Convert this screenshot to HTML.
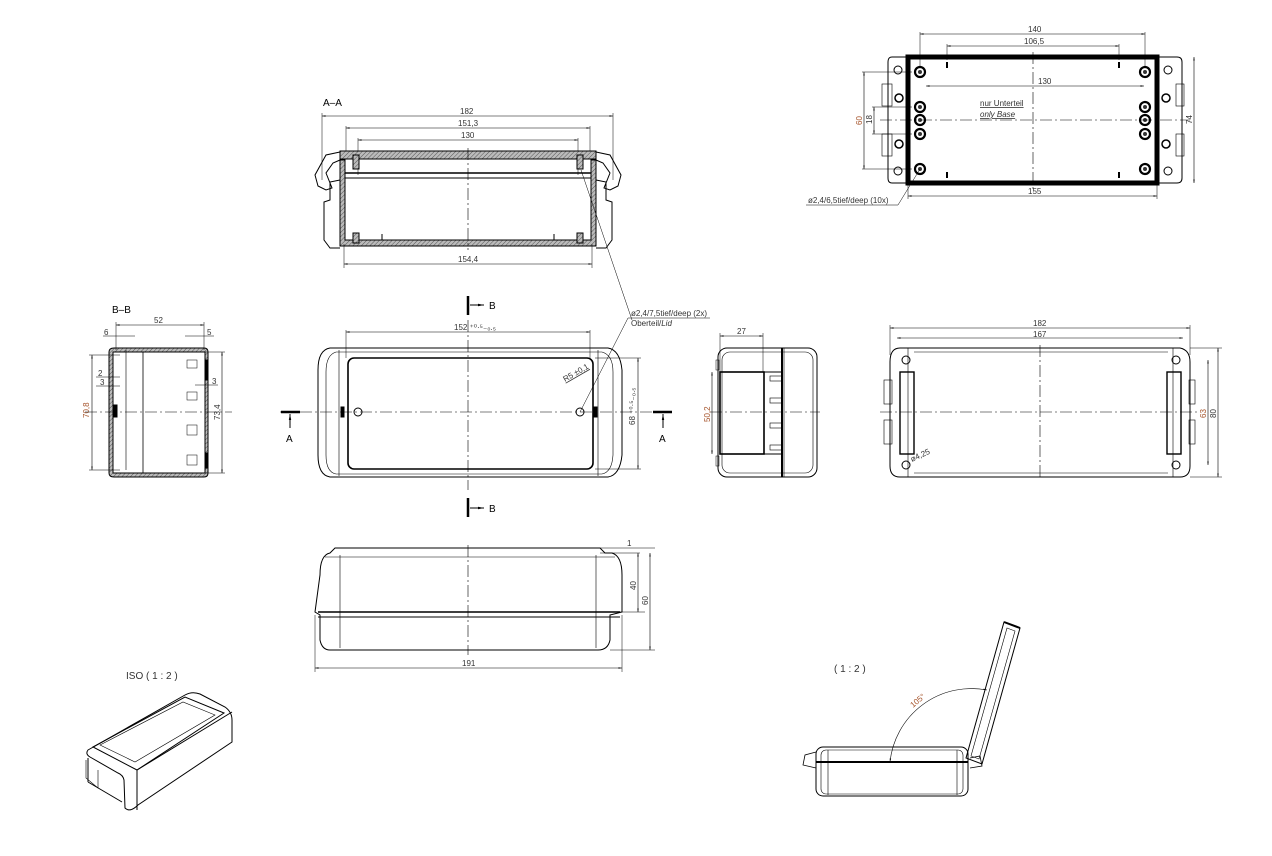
<!DOCTYPE html>
<html><head><meta charset="utf-8"><style>
html,body{margin:0;padding:0;background:#fff;}
svg{display:block;}
text{font-family:"Liberation Sans",sans-serif;}
.d{font-size:8px;fill:#333;}
.o{font-size:8px;fill:#a5532a;}
</style></head><body>
<svg width="1272" height="856" viewBox="0 0 1272 856" xmlns="http://www.w3.org/2000/svg">
<defs>
<marker id="a" viewBox="0 0 10 10" refX="10" refY="5" markerWidth="6" markerHeight="6" orient="auto-start-reverse"><path d="M0,3 L10,5 L0,7z" fill="#000"/></marker>
<pattern id="h" width="3" height="3" patternUnits="userSpaceOnUse" patternTransform="rotate(45)"><rect width="3" height="3" fill="#bbb"/><line x1="0" y1="0" x2="0" y2="3" stroke="#555" stroke-width="1"/></pattern>
</defs>
<g fill="none" stroke="#000" stroke-width="1">

<!-- ========== A-A section ========== -->
<text x="323" y="106" stroke="none" fill="#000" style="font-size:10px">A–A</text>
<line x1="322" y1="116" x2="613" y2="116" marker-start="url(#a)" marker-end="url(#a)" stroke-width="0.6"/>
<line x1="322" y1="113" x2="322" y2="180" stroke-width="0.5"/><line x1="613" y1="113" x2="613" y2="180" stroke-width="0.5"/>
<line x1="346" y1="128" x2="590" y2="128" marker-start="url(#a)" marker-end="url(#a)" stroke-width="0.6"/>
<line x1="346" y1="126" x2="346" y2="155" stroke-width="0.5"/><line x1="590" y1="126" x2="590" y2="155" stroke-width="0.5"/>
<line x1="358" y1="140" x2="578" y2="140" marker-start="url(#a)" marker-end="url(#a)" stroke-width="0.6"/>
<line x1="358" y1="138" x2="358" y2="175" stroke-width="0.5"/><line x1="578" y1="138" x2="578" y2="175" stroke-width="0.5"/>
<text x="460" y="114" class="d" stroke="none">182</text>
<text x="458" y="126" class="d" stroke="none">151,3</text>
<text x="461" y="138" class="d" stroke="none">130</text>
<rect x="340" y="151" width="256" height="8" fill="url(#h)" stroke="#000"/>
<line x1="345" y1="173" x2="592" y2="173" stroke-width="1.5"/>
<line x1="340" y1="178" x2="596" y2="178"/>
<path d="M340,152 L326,155 L315,175 L318,186 L326,190 L332,188 L326,173 L333,163 L340,160"/>
<path d="M596,152 L610,155 L621,175 L618,186 L610,190 L604,188 L610,173 L603,163 L596,160"/>
<path d="M340,160 L340,246 L596,246 L596,160 L591,160 L591,240 L345,240 L345,160 Z" fill="url(#h)"/>
<path d="M340,180 L330,182 L330,200 L324,202 L324,240 L330,248 L340,248"/>
<path d="M596,180 L606,182 L606,200 L612,202 L612,240 L606,248 L596,248"/>
<rect x="353" y="155" width="6" height="14" fill="url(#h)"/><rect x="577" y="155" width="6" height="14" fill="url(#h)"/>
<rect x="353" y="233" width="6" height="10" fill="url(#h)"/><rect x="577" y="233" width="6" height="10" fill="url(#h)"/>
<line x1="382" y1="234" x2="382" y2="240"/><line x1="554" y1="234" x2="554" y2="240"/>
<line x1="468" y1="148" x2="468" y2="250" stroke-dasharray="12,3,2,3" stroke-width="0.6"/>
<line x1="344" y1="244" x2="344" y2="268" stroke-width="0.5"/><line x1="592" y1="244" x2="592" y2="268" stroke-width="0.5"/>
<line x1="344" y1="264" x2="592" y2="264" marker-start="url(#a)" marker-end="url(#a)" stroke-width="0.6"/>
<text x="458" y="262" class="d" stroke="none">154,4</text>
<line x1="581" y1="170" x2="632" y2="320" stroke-width="0.5"/>

<!-- ========== B-B section ========== -->
<text x="112" y="313" stroke="none" fill="#000" style="font-size:10px">B–B</text>
<path d="M114,348 L204,348 Q208,348 208,352 L208,473 Q208,477 204,477 L114,477 Q109,477 109,473 L109,352 Q109,348 114,348 Z M113,352 L113,473 L205,473 L205,352 Z" fill="url(#h)" fill-rule="evenodd"/>
<line x1="116" y1="325" x2="204" y2="325" marker-start="url(#a)" marker-end="url(#a)" stroke-width="0.6"/>
<text x="154" y="323" class="d" stroke="none">52</text>
<text x="104" y="335" class="d" stroke="none">6</text><text x="207" y="335" class="d" stroke="none">5</text>
<line x1="103" y1="336" x2="135" y2="336" stroke-width="0.5"/><line x1="185" y1="336" x2="214" y2="336" stroke-width="0.5"/>
<line x1="116" y1="322" x2="116" y2="350" stroke-width="0.5"/><line x1="204" y1="322" x2="204" y2="350" stroke-width="0.5"/>
<line x1="126" y1="350" x2="126" y2="470" stroke-width="0.6"/>
<line x1="143" y1="352" x2="143" y2="473" stroke-width="0.8"/>
<line x1="92" y1="355" x2="92" y2="470" marker-start="url(#a)" marker-end="url(#a)" stroke-width="0.6"/>
<line x1="89" y1="355" x2="120" y2="355" stroke-width="0.5"/><line x1="89" y1="470" x2="120" y2="470" stroke-width="0.5"/>
<text transform="translate(89,418) rotate(-90)" class="o" stroke="none">70,8</text>
<line x1="222" y1="352" x2="222" y2="473" marker-start="url(#a)" marker-end="url(#a)" stroke-width="0.6"/>
<line x1="205" y1="352" x2="225" y2="352" stroke-width="0.5"/><line x1="205" y1="473" x2="225" y2="473" stroke-width="0.5"/>
<text transform="translate(220,420) rotate(-90)" class="d" stroke="none">73,4</text>
<text x="98" y="376" class="d" stroke="none">2</text><text x="100" y="385" class="d" stroke="none">3</text>
<line x1="96" y1="377" x2="120" y2="377" stroke-width="0.5"/><line x1="96" y1="386" x2="120" y2="386" stroke-width="0.5"/>
<text x="212" y="384" class="d" stroke="none">3</text>
<line x1="195" y1="385" x2="218" y2="385" stroke-width="0.5"/>
<rect x="113" y="405" width="4" height="12" fill="#000"/><rect x="205" y="360" width="3" height="20" fill="#000"/><rect x="205" y="453" width="3" height="15" fill="#000"/>
<line x1="85" y1="412" x2="232" y2="412" stroke-dasharray="12,3,2,3" stroke-width="0.6"/>
<rect x="187" y="360" width="10" height="8" stroke-width="0.5"/><rect x="187" y="392" width="10" height="8" stroke-width="0.5"/><rect x="187" y="425" width="10" height="10" stroke-width="0.5"/><rect x="187" y="455" width="10" height="10" stroke-width="0.5"/>

<!-- ========== front view ========== -->
<path d="M330,348 L608,348 Q620,350 622,370 L622,455 Q620,475 608,477 L330,477 Q318,475 318,455 L318,370 Q318,350 330,348 Z"/>
<path d="M336,352 L602,352 Q613,355 613,372 L613,455 Q612,472 602,474 L336,474 Q326,472 326,455 L326,372 Q326,355 336,352 Z" stroke-width="0.6"/>
<line x1="339" y1="350" x2="339" y2="476" stroke-width="0.6"/><line x1="598" y1="350" x2="598" y2="476" stroke-width="0.6"/>
<rect x="348" y="358" width="245" height="111" rx="6" stroke-width="1.6"/>
<line x1="280" y1="412" x2="655" y2="412" stroke-dasharray="12,3,2,3" stroke-width="0.6"/>
<line x1="468" y1="320" x2="468" y2="490" stroke-dasharray="12,3,2,3" stroke-width="0.6"/>
<circle cx="358" cy="412" r="4"/><circle cx="580" cy="412" r="4"/>
<rect x="341" y="407" width="3" height="10" fill="#000"/><rect x="594" y="407" width="3" height="10" fill="#000"/>
<line x1="346" y1="332" x2="590" y2="332" marker-start="url(#a)" marker-end="url(#a)" stroke-width="0.6"/>
<line x1="346" y1="330" x2="346" y2="358" stroke-width="0.5"/><line x1="590" y1="330" x2="590" y2="358" stroke-width="0.5"/>
<text x="454" y="330" class="d" stroke="none">152 ⁺⁰·⁵₋₀.₅</text>
<line x1="638" y1="358" x2="638" y2="469" marker-start="url(#a)" marker-end="url(#a)" stroke-width="0.6"/>
<line x1="595" y1="358" x2="641" y2="358" stroke-width="0.5"/><line x1="595" y1="469" x2="641" y2="469" stroke-width="0.5"/>
<text transform="translate(635,425) rotate(-90)" class="d" stroke="none">68 ⁺⁰·⁵₋₀.₅</text>
<text transform="translate(565,382) rotate(-30)" class="d" stroke="none" style="text-decoration:underline">R5 ±0,1</text>
<line x1="580" y1="412" x2="628" y2="318" stroke-width="0.5"/><line x1="628" y1="318" x2="710" y2="318" stroke-width="0.5"/>
<text x="631" y="316" class="d" stroke="none">ø2,4/7,5tief/deep (2x)</text>
<text x="631" y="326" class="d" stroke="none">Oberteil/<tspan font-style="italic">Lid</tspan></text>
<line x1="468" y1="296" x2="468" y2="315" stroke-width="2.5"/><line x1="470" y1="305" x2="484" y2="305" marker-end="url(#a)"/>
<text x="489" y="309" stroke="none" fill="#000" style="font-size:10px">B</text>
<line x1="468" y1="498" x2="468" y2="517" stroke-width="2.5"/><line x1="470" y1="508" x2="484" y2="508" marker-end="url(#a)"/>
<text x="489" y="512" stroke="none" fill="#000" style="font-size:10px">B</text>
<line x1="281" y1="412" x2="300" y2="412" stroke-width="2.5"/><line x1="290" y1="414" x2="290" y2="428" marker-start="url(#a)"/>
<text x="286" y="442" stroke="none" fill="#000" style="font-size:10px">A</text>
<line x1="653" y1="412" x2="672" y2="412" stroke-width="2.5"/><line x1="663" y1="414" x2="663" y2="428" marker-start="url(#a)"/>
<text x="659" y="442" stroke="none" fill="#000" style="font-size:10px">A</text>

<!-- ========== side view ========== -->
<rect x="718" y="348" width="99" height="129" rx="9"/>
<rect x="722" y="352" width="91" height="121" rx="8" stroke-width="0.6"/>
<line x1="782" y1="348" x2="782" y2="477" stroke-width="2"/>
<line x1="784" y1="348" x2="784" y2="477" stroke-width="0.6"/>
<rect x="720" y="372" width="44" height="82" stroke-width="1.6"/>
<line x1="764" y1="372" x2="782" y2="372"/><line x1="764" y1="454" x2="782" y2="454"/>
<rect x="770" y="376" width="12" height="5" stroke-width="0.6"/><rect x="770" y="398" width="12" height="5" stroke-width="0.6"/><rect x="770" y="423" width="12" height="5" stroke-width="0.6"/><rect x="770" y="445" width="12" height="5" stroke-width="0.6"/>
<line x1="710" y1="412" x2="820" y2="412" stroke-dasharray="12,3,2,3" stroke-width="0.6"/>
<line x1="720" y1="336" x2="763" y2="336" marker-start="url(#a)" marker-end="url(#a)" stroke-width="0.6"/>
<line x1="720" y1="333" x2="720" y2="372" stroke-width="0.5"/><line x1="763" y1="333" x2="763" y2="372" stroke-width="0.5"/>
<text x="737" y="334" class="d" stroke="none">27</text>
<line x1="712" y1="372" x2="712" y2="454" marker-start="url(#a)" marker-end="url(#a)" stroke-width="0.6"/>
<text transform="translate(710,422) rotate(-90)" class="o" stroke="none">50,2</text>
<rect x="716" y="360" width="3" height="10" stroke-width="0.5"/><rect x="716" y="456" width="3" height="10" stroke-width="0.5"/>

<!-- ========== right view ========== -->
<path d="M900,348 L1180,348 Q1190,350 1190,362 L1190,466 Q1190,477 1180,477 L900,477 Q890,477 890,466 L890,362 Q890,348 900,348 Z"/>
<line x1="908" y1="348" x2="908" y2="477" stroke-width="0.6"/><line x1="1173" y1="348" x2="1173" y2="477" stroke-width="0.6"/>
<line x1="914" y1="352" x2="1168" y2="352" stroke-width="0.6"/><line x1="914" y1="473" x2="1168" y2="473" stroke-width="0.6"/>
<circle cx="906" cy="360" r="4"/><circle cx="1176" cy="360" r="4"/><circle cx="906" cy="465" r="4"/><circle cx="1176" cy="465" r="4"/>
<rect x="900" y="372" width="14" height="82" stroke-width="1.4"/><rect x="1167" y="372" width="14" height="82" stroke-width="1.4"/>
<rect x="884" y="380" width="8" height="24" stroke-width="0.6"/><rect x="884" y="420" width="8" height="24" stroke-width="0.6"/>
<rect x="1189" y="380" width="6" height="24" stroke-width="0.6"/><rect x="1189" y="420" width="6" height="24" stroke-width="0.6"/>
<line x1="880" y1="412" x2="1200" y2="412" stroke-dasharray="12,3,2,3" stroke-width="0.6"/>
<line x1="1040" y1="345" x2="1040" y2="480" stroke-dasharray="12,3,2,3" stroke-width="0.6"/>
<line x1="890" y1="328" x2="1190" y2="328" marker-start="url(#a)" marker-end="url(#a)" stroke-width="0.6"/>
<line x1="897" y1="338" x2="1183" y2="338" marker-start="url(#a)" marker-end="url(#a)" stroke-width="0.6"/>
<line x1="890" y1="325" x2="890" y2="355" stroke-width="0.5"/><line x1="1190" y1="325" x2="1190" y2="355" stroke-width="0.5"/>
<text x="1033" y="326" class="d" stroke="none">182</text><text x="1033" y="337" class="d" stroke="none">167</text>
<line x1="1208" y1="360" x2="1208" y2="465" marker-start="url(#a)" marker-end="url(#a)" stroke-width="0.6"/>
<line x1="1218" y1="348" x2="1218" y2="477" marker-start="url(#a)" marker-end="url(#a)" stroke-width="0.6"/>
<line x1="1190" y1="348" x2="1222" y2="348" stroke-width="0.5"/><line x1="1190" y1="477" x2="1222" y2="477" stroke-width="0.5"/>
<text transform="translate(1206,418) rotate(-90)" class="o" stroke="none">63</text>
<text transform="translate(1216,418) rotate(-90)" class="d" stroke="none">80</text>
<text transform="translate(912,462) rotate(-25)" class="d" stroke="none">ø4,25</text>

<!-- ========== top right view ========== -->
<rect x="908" y="57" width="249" height="126" stroke-width="5"/>
<path d="M892,57 L908,57 L908,183 L892,183 Q888,183 888,178 L888,62 Q888,57 892,57 Z"/>
<path d="M1157,57 L1177,57 Q1182,57 1182,62 L1182,178 Q1182,183 1177,183 L1157,183 Z"/>
<circle cx="898" cy="70" r="4"/><circle cx="898" cy="171" r="4"/><circle cx="1168" cy="70" r="4"/><circle cx="1168" cy="171" r="4"/>
<rect x="882" y="84" width="10" height="22" stroke-width="0.6"/><rect x="882" y="134" width="10" height="22" stroke-width="0.6"/>
<rect x="1176" y="84" width="8" height="22" stroke-width="0.6"/><rect x="1176" y="134" width="8" height="22" stroke-width="0.6"/>
<g stroke-width="2.2">
<circle cx="920" cy="72" r="5"/><circle cx="1145" cy="72" r="5"/><circle cx="920" cy="107" r="5"/><circle cx="920" cy="120" r="5"/><circle cx="920" cy="134" r="5"/><circle cx="1145" cy="107" r="5"/><circle cx="1145" cy="120" r="5"/><circle cx="1145" cy="134" r="5"/><circle cx="920" cy="169" r="5"/><circle cx="1145" cy="169" r="5"/>
<circle cx="899" cy="98" r="4" stroke-width="1.5"/><circle cx="899" cy="144" r="4" stroke-width="1.5"/><circle cx="1166" cy="98" r="4" stroke-width="1.5"/><circle cx="1166" cy="144" r="4" stroke-width="1.5"/>
</g>
<g fill="#333" stroke="none">
<circle cx="920" cy="72" r="2"/><circle cx="1145" cy="72" r="2"/><circle cx="920" cy="107" r="2"/><circle cx="920" cy="120" r="2"/><circle cx="920" cy="134" r="2"/><circle cx="1145" cy="107" r="2"/><circle cx="1145" cy="120" r="2"/><circle cx="1145" cy="134" r="2"/><circle cx="920" cy="169" r="2"/><circle cx="1145" cy="169" r="2"/>
</g>
<line x1="947" y1="62" x2="947" y2="68" stroke-width="2"/><line x1="1119" y1="62" x2="1119" y2="68" stroke-width="2"/>
<line x1="947" y1="172" x2="947" y2="178" stroke-width="2"/><line x1="1119" y1="172" x2="1119" y2="178" stroke-width="2"/>
<line x1="880" y1="120" x2="1190" y2="120" stroke-dasharray="12,3,2,3" stroke-width="0.6"/>
<line x1="1033" y1="52" x2="1033" y2="190" stroke-dasharray="12,3,2,3" stroke-width="0.6"/>
<line x1="920" y1="34" x2="1145" y2="34" marker-start="url(#a)" marker-end="url(#a)" stroke-width="0.6"/>
<line x1="920" y1="32" x2="920" y2="68" stroke-width="0.5"/><line x1="1145" y1="32" x2="1145" y2="68" stroke-width="0.5"/>
<text x="1028" y="32" class="d" stroke="none">140</text>
<line x1="947" y1="46" x2="1119" y2="46" marker-start="url(#a)" marker-end="url(#a)" stroke-width="0.6"/>
<line x1="947" y1="44" x2="947" y2="60" stroke-width="0.5"/><line x1="1119" y1="44" x2="1119" y2="60" stroke-width="0.5"/>
<text x="1024" y="44" class="d" stroke="none">106,5</text>
<line x1="926" y1="86" x2="1144" y2="86" marker-start="url(#a)" marker-end="url(#a)" stroke-width="0.6"/>
<text x="1038" y="84" class="d" stroke="none">130</text>
<text x="980" y="106" class="d" stroke="none" style="text-decoration:underline">nur Unterteil</text>
<text x="980" y="117" class="d" stroke="none" font-style="italic" style="text-decoration:underline">only Base</text>
<line x1="908" y1="196" x2="1157" y2="196" marker-start="url(#a)" marker-end="url(#a)" stroke-width="0.6"/>
<line x1="908" y1="185" x2="908" y2="199" stroke-width="0.5"/><line x1="1157" y1="185" x2="1157" y2="199" stroke-width="0.5"/>
<text x="1028" y="194" class="d" stroke="none">155</text>
<line x1="864" y1="72" x2="864" y2="169" marker-start="url(#a)" marker-end="url(#a)" stroke-width="0.6"/>
<line x1="874" y1="107" x2="874" y2="134" marker-start="url(#a)" marker-end="url(#a)" stroke-width="0.6"/>
<line x1="862" y1="72" x2="912" y2="72" stroke-width="0.5"/><line x1="862" y1="169" x2="912" y2="169" stroke-width="0.5"/>
<line x1="872" y1="107" x2="912" y2="107" stroke-width="0.5"/><line x1="872" y1="134" x2="912" y2="134" stroke-width="0.5"/>
<text transform="translate(862,125) rotate(-90)" class="o" stroke="none">60</text>
<text transform="translate(872,124) rotate(-90)" class="d" stroke="none">18</text>
<line x1="1194" y1="57" x2="1194" y2="183" marker-start="url(#a)" marker-end="url(#a)" stroke-width="0.6"/>
<text transform="translate(1192,124) rotate(-90)" class="d" stroke="none">74</text>
<line x1="920" y1="169" x2="898" y2="205" stroke-width="0.5"/><line x1="898" y1="205" x2="806" y2="205" stroke-width="0.5"/>
<text x="808" y="203" class="d" stroke="none">ø2,4/6,5tief/deep (10x)</text>

<!-- ========== bottom view ========== -->
<path d="M330,553 L335,548 L600,548 L605,553 L612,553 Q622,556 622,575 L622,612 L610,615 L610,640 Q608,650 598,650 L330,650 Q322,650 320,640 L320,615 L315,612 L320,575 Q320,555 330,553 Z"/>
<line x1="340" y1="555" x2="340" y2="648" stroke-width="0.6"/><line x1="596" y1="555" x2="596" y2="648" stroke-width="0.6"/>
<line x1="325" y1="557" x2="615" y2="557" stroke-width="0.6"/>
<line x1="318" y1="612" x2="620" y2="612" stroke-width="1.4"/><line x1="318" y1="617" x2="620" y2="617"/>
<line x1="468" y1="545" x2="468" y2="655" stroke-dasharray="12,3,2,3" stroke-width="0.6"/>
<line x1="600" y1="548" x2="655" y2="548" stroke-width="0.5"/><line x1="600" y1="553" x2="640" y2="553" stroke-width="0.5"/><line x1="620" y1="612" x2="645" y2="612" stroke-width="0.5"/><line x1="610" y1="650" x2="655" y2="650" stroke-width="0.5"/>
<line x1="638" y1="553" x2="638" y2="612" marker-start="url(#a)" marker-end="url(#a)" stroke-width="0.6"/>
<line x1="650" y1="553" x2="650" y2="650" marker-start="url(#a)" marker-end="url(#a)" stroke-width="0.6"/>
<text x="627" y="546" class="d" stroke="none">1</text>
<text transform="translate(636,590) rotate(-90)" class="d" stroke="none">40</text>
<text transform="translate(648,605) rotate(-90)" class="d" stroke="none">60</text>
<line x1="315" y1="668" x2="622" y2="668" marker-start="url(#a)" marker-end="url(#a)" stroke-width="0.6"/>
<line x1="315" y1="615" x2="315" y2="672" stroke-width="0.5"/><line x1="622" y1="615" x2="622" y2="672" stroke-width="0.5"/>
<text x="462" y="666" class="d" stroke="none">191</text>

<!-- ========== ISO ========== -->
<text x="126" y="679" stroke="none" fill="#333" style="font-size:10px">ISO ( 1 : 2 )</text>
<path d="M88,750 L185,695 Q192,691 200,694 L225,707 Q232,712 232,720 L232,742 L138,805 Q130,813 125,808 L124,780 Q123,775 118,773 L90,757 Q85,754 88,750 Z"/>
<path d="M93,747 L185,697 L224,713 L137,770 Z"/>
<path d="M100,745 L183,702 L215,715 L135,762 Z" stroke-width="0.6"/>
<line x1="88" y1="758" x2="88" y2="782"/><path d="M88,782 L122,802"/>
<line x1="137" y1="770" x2="137" y2="810"/><line x1="137" y1="770" x2="232" y2="712"/>
<path d="M86,760 L86,778 L98,788 L98,770" stroke-width="0.6"/>

<!-- ========== open lid ========== -->
<text x="834" y="672" stroke="none" fill="#333" style="font-size:10px">( 1 : 2 )</text>
<rect x="816" y="747" width="152" height="49" rx="7"/>
<rect x="821" y="750" width="142" height="44" rx="5" stroke-width="0.6"/>
<line x1="816" y1="762" x2="968" y2="762" stroke-width="2"/>
<line x1="828" y1="750" x2="828" y2="795" stroke-width="0.6"/><line x1="957" y1="750" x2="957" y2="795" stroke-width="0.6"/>
<path d="M966,758 L1004,622 L1020,628 L982,764 Z"/>
<path d="M971,756 L1007,628 L1015,631 L979,759 Z" stroke-width="0.6"/>
<line x1="1004" y1="622" x2="1020" y2="628" stroke-width="2"/>
<path d="M816,752 L805,755 L803,765 L816,768" stroke-width="0.8"/>
<path d="M970,758 L980,756 L982,766 L970,768" stroke-width="0.8"/>
<path d="M890,762 A82,82 0 0 1 987,690" stroke-width="0.6" marker-start="url(#a)" marker-end="url(#a)"/>
<text transform="translate(913,708) rotate(-40)" class="o" stroke="none">105°</text>
</g>
</svg>
</body></html>
